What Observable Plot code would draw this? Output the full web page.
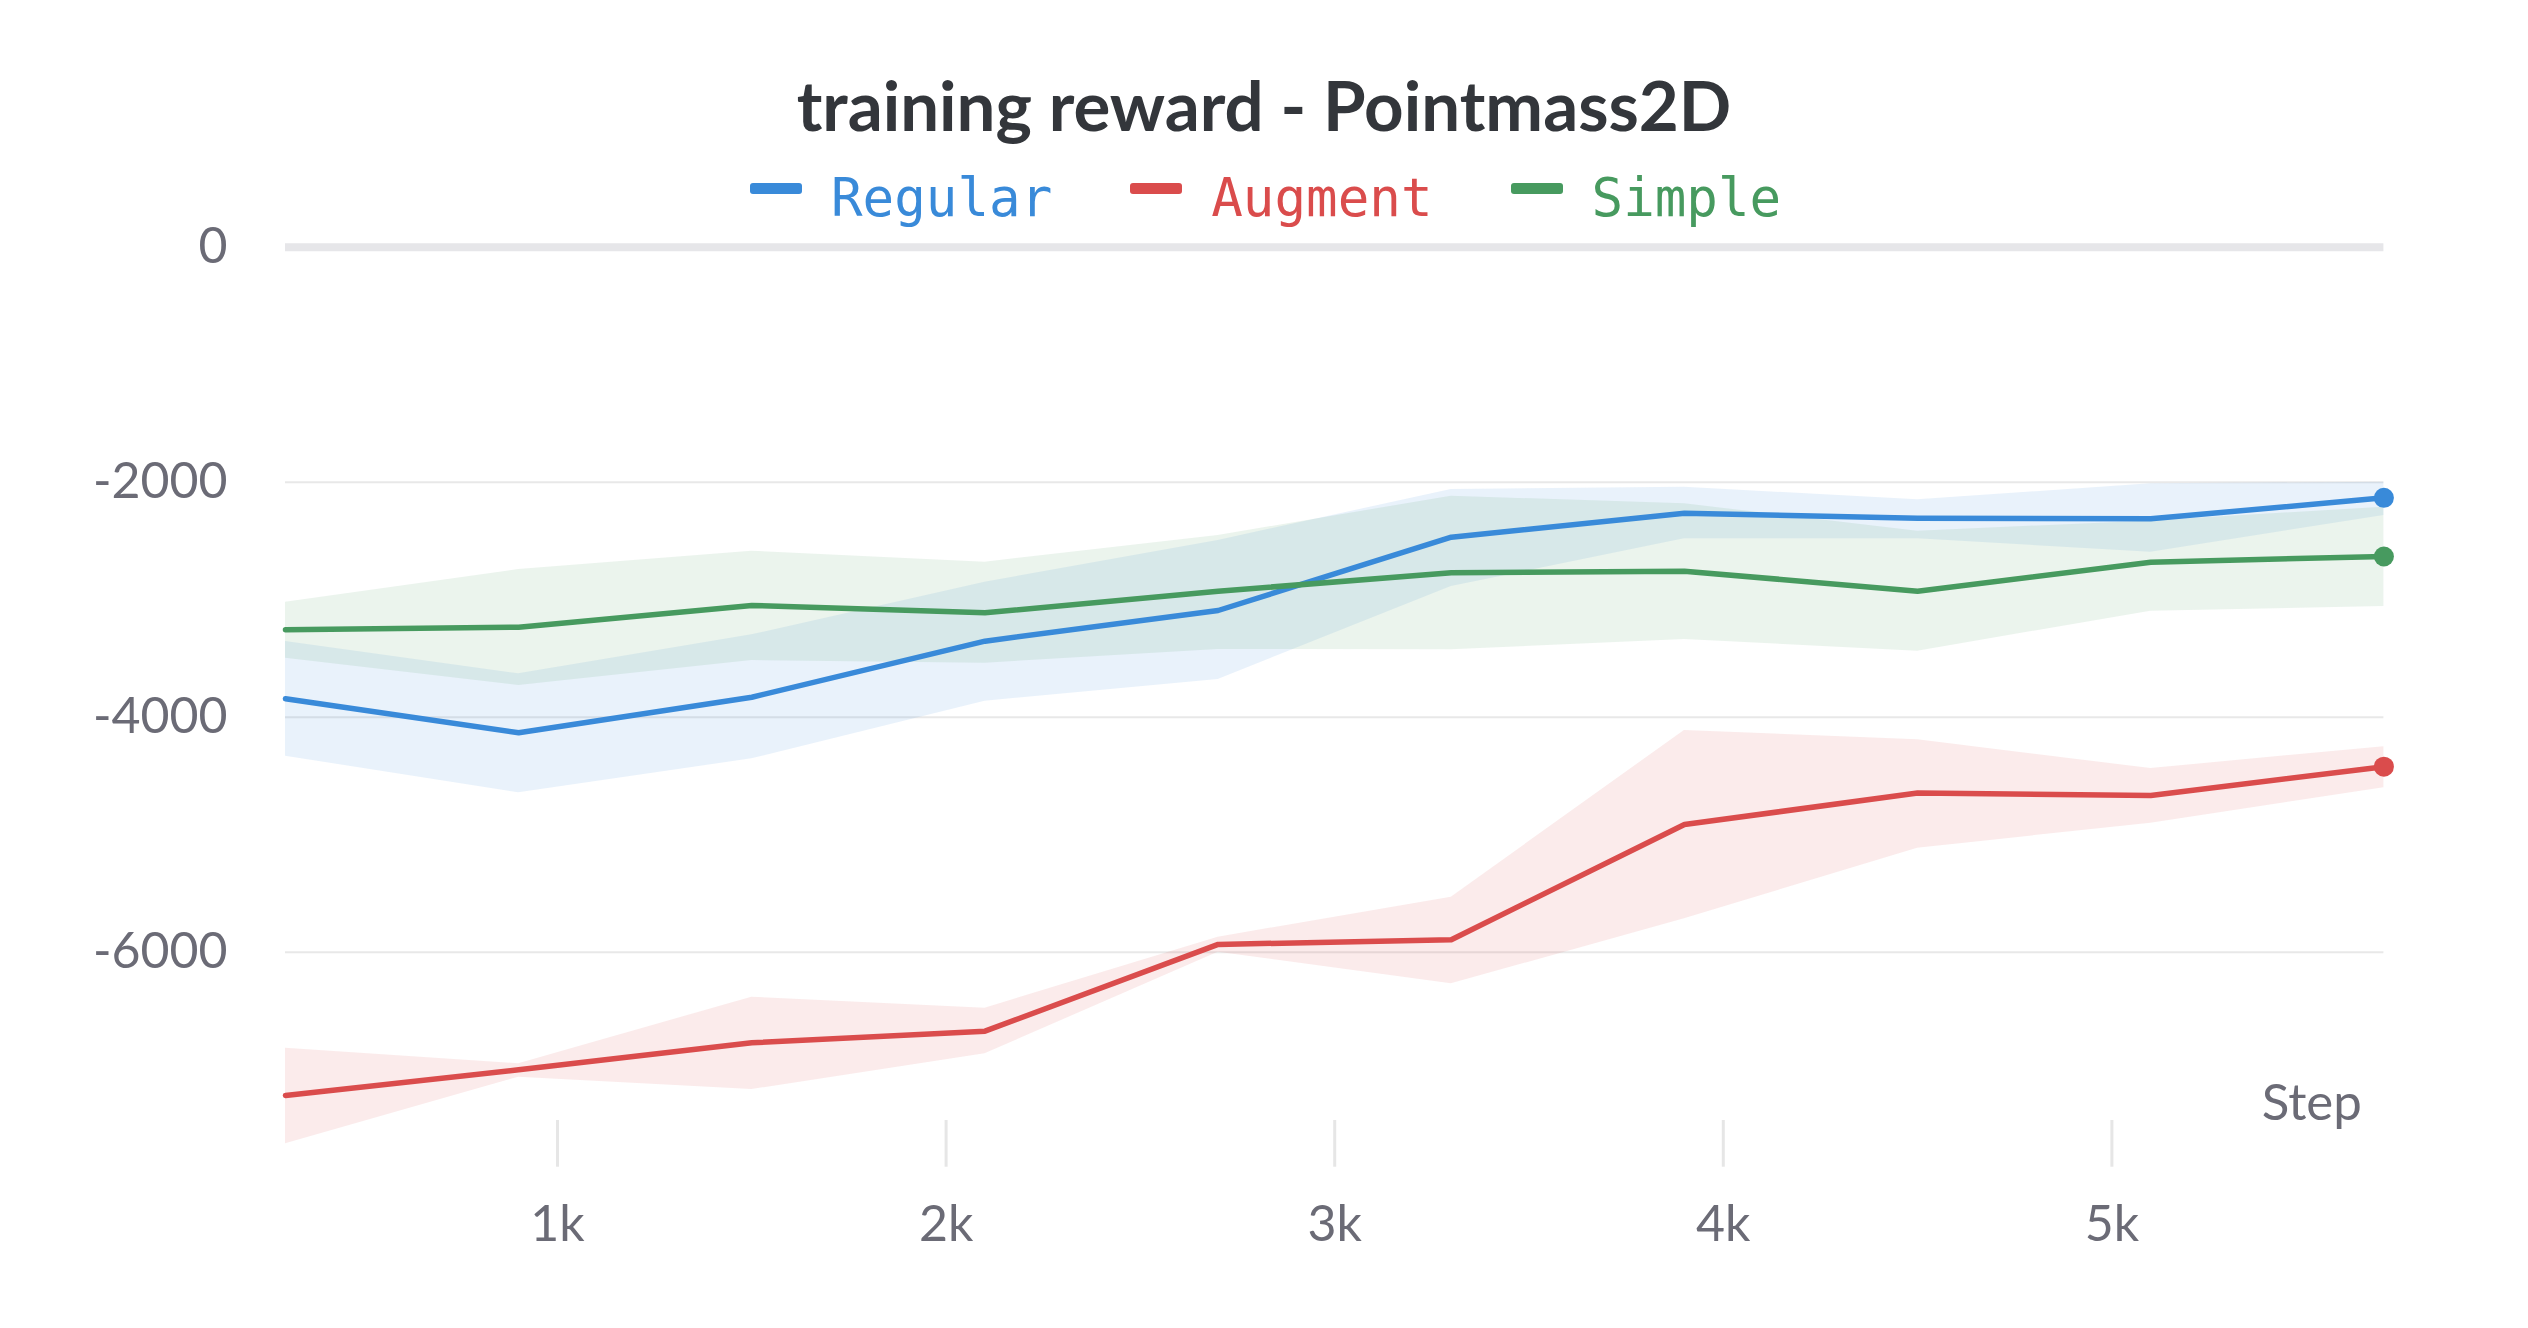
<!DOCTYPE html>
<html>
<head>
<meta charset="utf-8">
<script src="https://cdn.jsdelivr.net/npm/d3@7"></script>
<script src="https://cdn.jsdelivr.net/npm/@observablehq/plot@0.6"></script>
<style>
  body { margin: 0; background: #fff; }
  #wrap { position: relative; width: 2528px; height: 1328px; overflow: hidden; background: #fff; }
  #chart { position: absolute; left: 0; top: 0; }
  #title { position: absolute; left: 0; width: 2528px; top: 71px; text-align: center;
           font-family: Lato, "Noto Sans", sans-serif; font-weight: 700; font-size: 69px;
           line-height: 68px; color: #33363b; z-index: 2; white-space: nowrap; }
  #legend { position: absolute; left: 750px; top: 171px; display: flex; align-items: center;
            font-family: "DejaVu Sans Mono", monospace; font-size: 52.5px; line-height: 53px; z-index: 2; }
  .item { display: flex; align-items: center; margin-right: 78px; }
  .sw { width: 52px; height: 11px; border-radius: 3px; margin-right: 29px; position: relative; top: -9px; }
</style>
</head>
<body>
<div id="wrap">
  <div id="chart"></div>
  <div id="title"></div>
  <div id="legend"></div>
</div>
<script>
// ---- data ----
const chartTitle = "training reward - Pointmass2D";
const seriesNames = ["Regular", "Augment", "Simple"];
const seriesColors = ["#398ad9", "#da4c4c", "#479a5f"];
const steps = [300, 900, 1500, 2100, 2700, 3300, 3900, 4500, 5100, 5700];

const regularMean  = [-3843, -4133, -3830, -3353, -3092, -2468, -2264, -2306, -2312, -2133];
const regularUpper = [-3356, -3631, -3299, -2851, -2496, -2062, -2043, -2150, -2014, -2000];
const regularLower = [-4332, -4644, -4354, -3864, -3679, -2888, -2482, -2482, -2596, -2283];

const augmentMean  = [-7220, -7001, -6771, -6672, -5934, -5894, -4913, -4646, -4666, -4421];
const augmentUpper = [-6817, -6950, -6383, -6477, -5872, -5532, -4113, -4192, -4437, -4251];
const augmentLower = [-7631, -7064, -7169, -6865, -6000, -6269, -5716, -5115, -4902, -4601];

const simpleMean   = [-3256, -3234, -3049, -3112, -2928, -2771, -2757, -2928, -2681, -2632];
const simpleUpper  = [-3021, -2743, -2587, -2681, -2454, -2119, -2184, -2417, -2330, -2213];
const simpleLower  = [-3498, -3730, -3518, -3540, -3424, -3426, -3339, -3438, -3098, -3058];

const yTicks = [0, -2000, -4000, -6000];
const xTicks = [1000, 2000, 3000, 4000, 5000];
const xLabel = "Step";

// ---- build table ----
const seriesData = [
  {name: "Regular", mean: regularMean, upper: regularUpper, lower: regularLower},
  {name: "Augment", mean: augmentMean, upper: augmentUpper, lower: augmentLower},
  {name: "Simple",  mean: simpleMean,  upper: simpleUpper,  lower: simpleLower}
];
const rows = [];
seriesData.forEach(s => steps.forEach((st, i) =>
  rows.push({series: s.name, step: st, mean: s.mean[i], upper: s.upper[i], lower: s.lower[i]})));
const lastRows = rows.filter(d => d.step === steps[steps.length - 1]);

// ---- title & legend ----
document.getElementById("title").textContent = chartTitle;
const legend = document.getElementById("legend");
seriesNames.forEach((n, i) => {
  const item = document.createElement("div");
  item.className = "item";
  const sw = document.createElement("div");
  sw.className = "sw";
  sw.style.background = seriesColors[i];
  const t = document.createElement("span");
  t.textContent = n;
  t.style.color = seriesColors[i];
  item.appendChild(sw); item.appendChild(t);
  legend.appendChild(item);
});

// ---- chart ----
const W = 2528, H = 1328;
const top0 = 246.7, bottom0 = 1166.7, left0 = 285, right0 = 2383.4;
const labelColor = "#6b6b76";

const chart = Plot.plot({
  width: W, height: H,
  marginTop: top0, marginBottom: H - bottom0, marginLeft: left0, marginRight: W - right0,
  x: {domain: [300, 5700]},
  y: {domain: [-7830, 0]},
  color: {domain: seriesNames, range: seriesColors},
  style: {fontFamily: "Lato, 'Noto Sans', sans-serif", background: "white", color: labelColor, overflow: "visible"},
  marks: [
    Plot.gridY({ticks: yTicks.filter(d => d !== 0), stroke: "#e8e8e8", strokeOpacity: 1, strokeWidth: 2}),
    Plot.ruleY([0], {stroke: "#e6e6e9", strokeWidth: 8}),
    Plot.ruleX(xTicks, {stroke: "#e6e6e6", strokeWidth: 3, insetTop: 1120 - top0}),
    Plot.axisY({ticks: yTicks, tickSize: 0, tickPadding: 58, tickFormat: d => String(d),
                fontSize: 50, fill: labelColor, label: null}),
    Plot.axisX({ticks: xTicks, tickSize: 0, tickPadding: 38, tickFormat: d => (d / 1000) + "k",
                fontSize: 50, fill: labelColor, label: null}),
    Plot.text([xLabel], {frameAnchor: "bottom-right", textAnchor: "end", lineAnchor: "bottom",
                dx: -22, dy: -47, fontSize: 51, fill: labelColor}),
    Plot.areaY(rows, {x: "step", y1: "lower", y2: "upper", z: "series", fill: "series", fillOpacity: 0.11}),
    Plot.line(rows, {x: "step", y: "mean", z: "series", stroke: "series", strokeWidth: 5.5}),
    Plot.dot(lastRows, {x: "step", y: "mean", fill: "series", r: 10})
  ]
});
document.getElementById("chart").appendChild(chart);
</script>
</body>
</html>
